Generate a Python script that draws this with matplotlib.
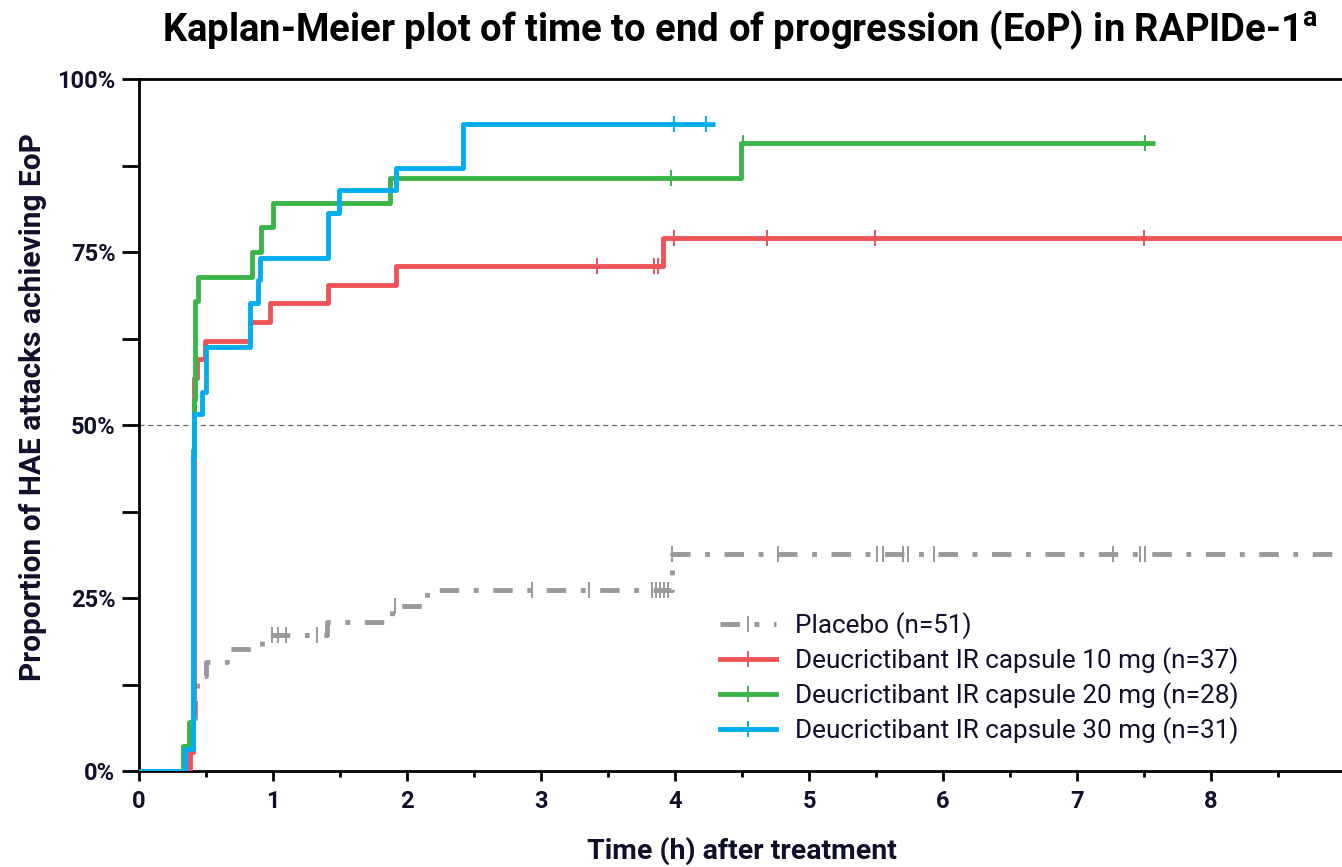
import matplotlib
matplotlib.use("Agg")
import matplotlib.pyplot as plt
from matplotlib.lines import Line2D
import numpy as np

plt.rcParams['font.family'] = ['Roboto', 'DejaVu Sans']
plt.rcParams['mathtext.fontset'] = 'custom'
plt.rcParams['mathtext.bf'] = 'Roboto:bold'
plt.rcParams['mathtext.rm'] = 'Roboto'

# step data: event times (h) and cumulative proportion achieving EoP (%)
placebo_t = [0, 0.37, 0.38, 0.40, 0.42, 0.43, 0.50, 0.66, 0.92, 1.40, 1.89, 2.15, 3.98]
placebo_v = [0, 1.96, 3.92, 5.88, 11.8, 13.7, 15.7, 17.6, 19.6, 21.6, 23.9, 26.1, 31.4]
placebo_cens = [0.99, 1.04, 1.10, 1.33, 1.91, 2.93, 3.36, 3.83, 3.86, 3.89, 3.92, 3.95,
                3.98, 4.77, 5.51, 5.55, 5.70, 5.74, 5.93, 7.27, 7.47, 7.51]
placebo_end = 9.0

mg10_t = [0, 0.38, 0.40, 0.41, 0.43, 0.49, 0.83, 0.98, 1.41, 1.92, 3.91]
mg10_v = [0, 2.7, 8.1, 56.8, 59.5, 62.2, 64.9, 67.6, 70.3, 73.0, 77.0]
mg10_cens = [3.42, 3.84, 3.87, 3.99, 4.69, 5.49, 7.50]
mg10_end = 9.0

mg20_t = [0, 0.33, 0.37, 0.405, 0.41, 0.415, 0.44, 0.84, 0.91, 1.0, 1.87, 4.49]
mg20_v = [0, 3.57, 7.14, 46.4, 53.6, 67.9, 71.4, 75.0, 78.6, 82.1, 85.7, 90.7]
mg20_cens = [3.97, 4.51, 7.51]
mg20_end = 7.58

mg30_t = [0, 0.34, 0.40, 0.405, 0.41, 0.47, 0.50, 0.83, 0.885, 0.905, 1.41, 1.49, 1.92, 2.42]
mg30_v = [0, 3.2, 6.5, 45.2, 51.6, 54.8, 61.3, 67.7, 71.0, 74.2, 80.6, 83.9, 87.1, 93.5]
mg30_cens = [3.99, 4.23]
mg30_end = 4.30

labels = ['Placebo (n=51)',
          'Deucrictibant IR capsule 10 mg (n=37)',
          'Deucrictibant IR capsule 20 mg (n=28)',
          'Deucrictibant IR capsule 30 mg (n=31)']
colors = ['#999999', '#EF5358', '#3AB54A', '#00AEEF']

dark = '#10102a'
placebo_dash = (4, 3, 1, 3)

fig = plt.figure(figsize=(13.42, 8.67), dpi=100)
ax = fig.add_axes([139/1342, 1 - 771/867, 1 - 139/1342, (771 - 79)/867])

series = [(placebo_t, placebo_v, placebo_cens, placebo_end),
          (mg10_t, mg10_v, mg10_cens, mg10_end),
          (mg20_t, mg20_v, mg20_cens, mg20_end),
          (mg30_t, mg30_v, mg30_cens, mg30_end)]

handles = []
for i, (t, v, cens, end) in enumerate(series):
    tt = np.array(t + [end])
    vv = np.array(v + [v[-1]])
    ls = (0, placebo_dash) if i == 0 else '-'
    ax.step(tt, vv, where='post', color=colors[i], lw=3.5, linestyle=ls,
            solid_capstyle='butt', zorder=2 + i)
    idx = np.searchsorted(np.array(t), cens, side='right') - 1
    cy = np.array(v)[idx]
    ax.plot(cens, cy, linestyle='none', marker='|', markersize=11,
            markeredgewidth=1.4, color=colors[i], zorder=2 + i)
    handles.append(Line2D([], [], color=colors[i], lw=3.5, linestyle=ls,
                          marker='|', markersize=11, markeredgewidth=1.4))

ax.axhline(50, color='#666666', lw=0.9, linestyle=(0, (4, 3)), zorder=1)

ax.set_xlim(0, (1342 - 139) / 134)
ax.set_ylim(0, 100)

ax.spines['right'].set_visible(False)
for s in ['left', 'bottom', 'top']:
    ax.spines[s].set_linewidth(2)
    ax.spines[s].set_color('black')

ax.set_xticks(range(0, 9))
ax.set_xticks(np.arange(0.5, 9, 1), minor=True)
ax.set_yticks([0, 25, 50, 75, 100])
ax.set_yticklabels(['0%', '25%', '50%', '75%', '100%'])
ax.set_yticks([12.5, 37.5, 62.5, 87.5], minor=True)
ax.tick_params(axis='x', which='major', length=7, width=2, direction='out', pad=7)
ax.tick_params(axis='x', which='minor', length=4, width=2, direction='out')
ax.tick_params(axis='y', which='both', length=12, width=2, direction='out', pad=5)
for lab in ax.get_xticklabels() + ax.get_yticklabels():
    lab.set_fontweight('bold')
    lab.set_fontsize(17)
    lab.set_color(dark)

leg = ax.legend(handles, labels, loc='upper left', bbox_to_anchor=(720/1342, 1 - 612/867),
                bbox_transform=fig.transFigure, frameon=False, fontsize=18.8,
                handlelength=2.15, handletextpad=0.72, labelspacing=0.32,
                borderpad=0, borderaxespad=0, numpoints=1)
for txt in leg.get_texts():
    txt.set_color(dark)

fig.text(740/1342, 1 - 30/867, 'Kaplan-Meier plot of time to end of progression (EoP) in RAPIDe-1$^{\\mathbf{a}}$',
         ha='center', va='center', fontsize=27.5, fontweight='bold', color='black')
fig.text(742/1342, 1 - 851/867, 'Time (h) after treatment', ha='center', va='center',
         fontsize=20.5, fontweight='bold', color=dark)
fig.text(33/1342, 1 - 407/867, 'Proportion of HAE attacks achieving EoP', ha='center',
         va='center', rotation=90, fontsize=21.5, fontweight='bold', color=dark)

fig.savefig('out.png', dpi=100)
